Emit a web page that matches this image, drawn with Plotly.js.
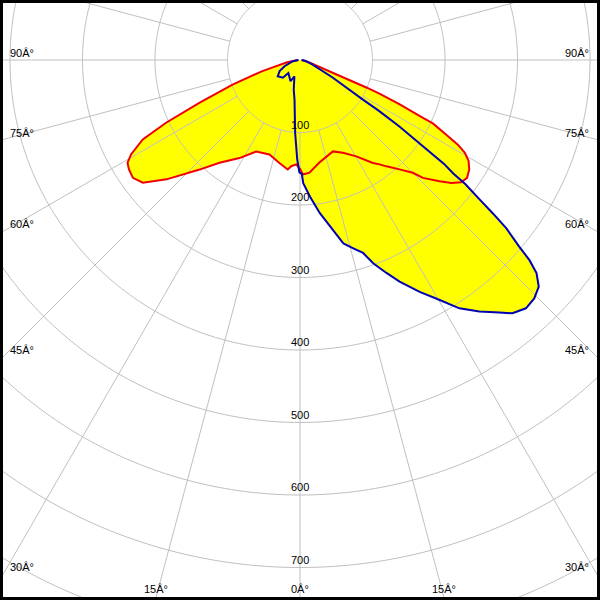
<!DOCTYPE html>
<html><head><meta charset="utf-8">
<script src="https://cdn.plot.ly/plotly-3.0.1.min.js"></script>
<style>
html,body{margin:0;padding:0;background:#fff;overflow:hidden;}
#wrap{position:relative;width:600px;height:600px;overflow:hidden;background:#fff;}
#chart{position:absolute;left:-320px;top:-560px;width:1240px;height:1240px;}
#frame{position:absolute;left:0;top:0;width:600px;height:600px;box-sizing:border-box;border:3px solid #000;pointer-events:none;}
</style></head><body>
<div id="wrap"><div id="chart"></div><div id="frame"></div></div>
<script>
// ---- data ----
// C0-C180 plane (red): gamma angle (deg, 0 = nadir, + to the right) and intensity
const redTheta = [-90,-80,-75,-73.5,-70,-66.9,-64.9,-63.2,-60.8,-59.2,-57.4,-54.8,-52,-48.2,-42.5,-38.1,-31.7,-25.6,-17.9,-11.3,-6.4,-4.7,-2.1,0,1.4,4.8,10.7,19.8,24.8,30.3,35.3,37.3,39.1,42.3,45,46.2,49,50.9,52.8,54.8,57.1,59.1,60.6,61.8,63,64.5,64.9,66,67,67.5,68.5,75,90];
const redR     = [3,18,38,55,99,151,204,243,267,277,280,282,275,247,205,180,159,140,137,145,152,147,144,150,158,156,144,134,141,154,174,181,189,204,220,235,255,269,279,282,278,271,261,247,226,203,182,150,119,99,50,15,3];
// C90-C270 plane (blue)
const blueTheta = [-90,-80,-68.2,-61.4,-53.9,-44,-41.9,-24.1,-18.7,-11.9,-7.9,-3.8,-1.6,-0.3,0.9,1.5,4.2,7.4,11,13.3,15.8,18.1,19.8,22.1,24.2,27.3,30.2,32.7,35.5,38.3,40,42.3,44.5,46.5,48,48.9,49.6,50.8,51.5,52.2,53.1,53.5,54.2,55.4,56.2,57.2,57.8,61.7,70,80,90];
const blueR     = [2,10,23,32,38,34,24,32,24,42,55,101,137,155,157,170,189,213,239,260,270,280,298,317,335,360,383,407,426,444,456,463,461,454,439,420,397,367,340,313,285,263,245,189,165,129,102,51,18,8,2];
// radial tick labels
const radialTicks  = [100,200,300,400,500,600,700];
const radialLabels = ['100','200','300','400','500','600','700'];
// angle labels around the frame
const angleTicks  = [-90,-75,-60,-45,-30,-15,0,15,30,45,60,75,90];
const angleLabels = ['90Â°','75Â°','60Â°','45Â°','30Â°','15Â°','0Â°','15Â°','30Â°','45Â°','60Â°','75Â°','90Â°'];
// grid
const gridCircles = [100,200,300,400,500,600,700,800];
const spokeStep = 15, spokeStart = 100;

// ---- geometry of the (clipped) polar plot ----
const CX = 300, CY = 60, RPX = 620, S = 2*RPX, PX_PER_UNIT = 0.725;
const RMAX = RPX / PX_PER_UNIT;
const LEFT = CX - RPX, TOP = CY - RPX;
const px2paperX = px => (px - LEFT) / S;
const px2paperY = py => 1 - (py - TOP) / S;
const FONT = {family:'Liberation Sans, Arial, sans-serif', size:11, color:'#000000'};

const traces = [];
const fillStyle = {mode:'lines', fill:'toself', fillcolor:'#ffff00', line:{width:0, color:'rgba(0,0,0,0)'}, hoverinfo:'skip', showlegend:false};
traces.push(Object.assign({type:'scatterpolar', r:redR, theta:redTheta}, fillStyle));
traces.push(Object.assign({type:'scatterpolar', r:blueR, theta:blueTheta}, fillStyle));

// circles
let cr=[], ct=[];
gridCircles.forEach(R => { for (let a=0; a<=360; a+=1){ cr.push(R); ct.push(a);} cr.push(null); ct.push(null); });
traces.push({type:'scatterpolar', mode:'lines', r:cr, theta:ct, line:{color:'#c0c0c0', width:1}, hoverinfo:'skip', showlegend:false});
// spokes
let sr=[], st=[];
for (let a=0; a<360; a+=spokeStep){ sr.push(spokeStart, RMAX, null); st.push(a, a, null); }
traces.push({type:'scatterpolar', mode:'lines', r:sr, theta:st, line:{color:'#c0c0c0', width:1}, hoverinfo:'skip', showlegend:false});

traces.push({type:'scatterpolar', mode:'lines', r:redR, theta:redTheta, line:{color:'#f00000', width:2}, hoverinfo:'skip', showlegend:false});
traces.push({type:'scatterpolar', mode:'lines', r:blueR, theta:blueTheta, line:{color:'#0000b4', width:2}, hoverinfo:'skip', showlegend:false});

const annotations = [];
// radial labels: centred on the 0° spoke, just above each circle
radialTicks.forEach((R, i) => {
  annotations.push({text:radialLabels[i], showarrow:false, xref:'paper', yref:'paper', font:FONT,
    x:px2paperX(CX), xanchor:'center', y:px2paperY(CY + R*PX_PER_UNIT), yanchor:'bottom'});
});
// angle labels placed where each spoke meets the frame
const IN_L = 3, IN_R = 597, IN_B = 597;
angleTicks.forEach((a, i) => {
  const rad = a*Math.PI/180, sx = Math.sin(rad), cy = Math.cos(rad);
  const tSide = sx < 0 ? (CX-IN_L)/(-sx) : (sx > 0 ? (IN_R-CX)/sx : Infinity);
  const tBot = cy > 1e-9 ? (IN_B-CY)/cy : Infinity;
  const base = {text:angleLabels[i], showarrow:false, xref:'paper', yref:'paper', font:FONT, yanchor:'bottom'};
  if (tSide < tBot) {
    const y = CY + tSide*cy;
    annotations.push(Object.assign(base, {x:px2paperX(sx<0 ? 8 : 591), xanchor: sx<0 ? 'left' : 'right', y:px2paperY(y+1)}));
  } else {
    const x = CX + tBot*sx;
    annotations.push(Object.assign(base, {x:px2paperX(x), xanchor:'center', y:px2paperY(597)}));
  }
});

const layout = {
  width:S, height:S, margin:{l:0,r:0,t:0,b:0,pad:0},
  paper_bgcolor:'#fff', showlegend:false, font:FONT,
  polar:{
    domain:{x:[0,1], y:[0,1]}, bgcolor:'#fff',
    radialaxis:{range:[0,RMAX], showgrid:false, showline:false, showticklabels:false, ticks:''},
    angularaxis:{rotation:-90, direction:'counterclockwise', showgrid:false, showline:false, showticklabels:false, ticks:''}
  },
  annotations:annotations
};
Plotly.newPlot('chart', traces, layout, {staticPlot:true, displayModeBar:false});
</script>
</body></html>
